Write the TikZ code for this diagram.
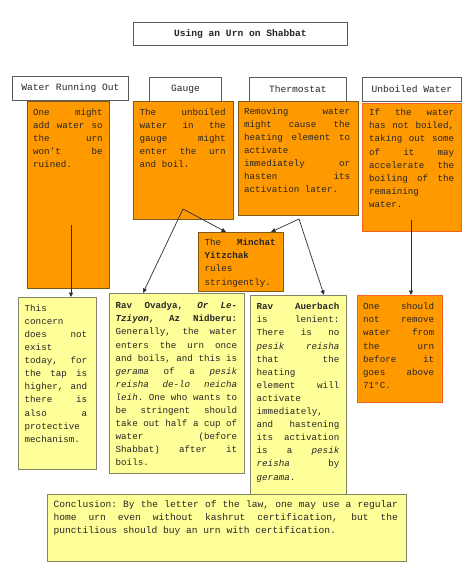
\documentclass[tikz,border=0pt]{standalone}
\usepackage{fontspec}
\setmainfont{Liberation Mono}
\usetikzlibrary{arrows.meta}
\definecolor{orf}{HTML}{FF9900}
\definecolor{ord}{HTML}{7F5A14}
\definecolor{orr}{HTML}{F5631E}
\definecolor{yef}{HTML}{FFFF99}
\definecolor{yed}{HTML}{84846A}
\definecolor{hdd}{HTML}{5A5A5A}
\definecolor{lnc}{HTML}{2E2E3A}
\definecolor{txc}{HTML}{262626}
\newcommand\Ls{\vrule height 9pt depth 4.1pt width 0pt}
\newcommand\Jx[1]{\hbox to\hsize{\spaceskip=\fontdimen2\font plus 1fil\xspaceskip=\spaceskip\relax#1\Ls}}
\newcommand\Lx[1]{\hbox to\hsize{#1\hfil\Ls}}
\newcommand\TB[3]{\vbox{\fontsize{#2}{13.1}\selectfont\hsize=#1pt\relax\lineskiplimit=-20pt\relax #3}}
\tikzset{
  hdr/.style={draw=hdd, fill=white, line width=0.8pt, anchor=north west, inner sep=0pt,
    font=\fontsize{9.6}{12}\selectfont, text=txc},
  obox/.style={draw=ord, fill=orf, line width=0.9pt, anchor=north west, inner sep=0pt},
  rbox/.style={draw=orr, fill=orf, line width=0.9pt, anchor=north west, inner sep=0pt},
  ybox/.style={draw=yed, fill=yef, line width=0.9pt, anchor=north west, inner sep=0pt},
  txt/.style={anchor=north west, inner sep=0pt, text=txc},
  conn/.style={draw=lnc, line width=0.7pt, -{Triangle[length=4.5pt,width=4pt]}}
}
\begin{document}
\begin{tikzpicture}[x=1pt,y=-1pt]
\path[fill=white] (0,0) rectangle (474,577);
\useasboundingbox (0,0) rectangle (474,577);
% title and headers
\node[hdr, minimum width=214pt, minimum height=23pt, font=\fontsize{9.6}{12}\selectfont\bfseries] (title) at (133,22) {Using an Urn on Shabbat};
\node[hdr, minimum width=116pt, minimum height=24pt] (hwro) at (12,76) {Water Running Out};
\node[hdr, minimum width=72pt, minimum height=24pt] (hgauge) at (149,77) {Gauge};
\node[hdr, minimum width=97pt, minimum height=24pt] (htherm) at (249,77) {Thermostat};
\node[hdr, minimum width=99pt, minimum height=24pt] (hunb) at (362,77) {Unboiled Water};
% orange boxes
\node[obox, minimum width=82pt, minimum height=187pt] (o1) at (27,101) {};
\node[txt] (t1) at ([shift={(6,5)}]o1.north west) {\TB{69.5}{9.2}{%
\Jx{One might}
\Jx{add water so}
\Jx{the urn}
\Jx{won’t be}
\Lx{ruined.}}};
\node[obox, minimum width=100pt, minimum height=118pt] (o2) at (133,101) {};
\node[txt] (t2) at ([shift={(6.5,5)}]o2.north west) {\TB{86}{9.2}{%
\Jx{The unboiled}
\Jx{water in the}
\Jx{gauge might}
\Jx{enter the urn}
\Lx{and boil.}}};
\node[obox, minimum width=120pt, minimum height=114pt] (o3) at (238,101) {};
\node[txt] (t3) at ([shift={(6,4)}]o3.north west) {\TB{106}{9.2}{%
\Jx{Removing water}
\Jx{might cause the}
\Jx{heating element to}
\Lx{activate}
\Jx{immediately or}
\Jx{hasten its}
\Lx{activation later.}}};
\node[rbox, minimum width=99pt, minimum height=128pt] (o4) at (362,103) {};
\node[txt] (t4) at ([shift={(7,3.5)}]o4.north west) {\TB{85}{9.2}{%
\Jx{If the water}
\Jx{has not boiled,}
\Jx{taking out some}
\Jx{of it may}
\Jx{accelerate the}
\Jx{boiling of the}
\Lx{remaining}
\Lx{water.}}};
\node[obox, minimum width=85pt, minimum height=59pt] (minchat) at (198,232) {};
\node[txt] (t5) at ([shift={(6.5,4.5)}]minchat.north west) {\TB{71}{9.2}{%
\Jx{The \textbf{Minchat}}
\Lx{\textbf{Yitzchak}}
\Lx{rules}
\Lx{stringently.}}};
% yellow boxes
\node[ybox, minimum width=78pt, minimum height=172pt] (concern) at (18,297) {};
\node[txt] (t6) at ([shift={(6.5,5)}]concern.north west) {\TB{62.5}{9.2}{%
\Lx{This}
\Lx{concern}
\Jx{does not}
\Lx{exist}
\Jx{today, for}
\Jx{the tap is}
\Jx{higher, and}
\Jx{there is}
\Jx{also a}
\Lx{protective}
\Lx{mechanism.}}};
\node[ybox, minimum width=135pt, minimum height=180pt] (ovadya) at (109,293) {};
\node[txt] (t7) at ([shift={(6.5,6.5)}]ovadya.north west) {\TB{121.5}{9.2}{%
\Jx{\textbf{Rav Ovadya, \textit{Or Le-}}}
\Jx{\textbf{\textit{Tziyon}, Az Nidberu:}}
\Jx{Generally, the water}
\Jx{enters the urn once}
\Jx{and boils, and this is}
\Jx{\textit{gerama} of a \textit{pesik}}
\Jx{\textit{reisha de-lo neicha}}
\Jx{\textit{leih}. One who wants to}
\Jx{be stringent should}
\Jx{take out half a cup of}
\Jx{water (before}
\Jx{Shabbat) after it}
\Lx{boils.}}};
\node[ybox, minimum width=96pt, minimum height=215pt] (auerbach) at (250,295) {};
\node[txt] (t8) at ([shift={(6.5,5.5)}]auerbach.north west) {\TB{82.6}{9.2}{%
\Jx{\textbf{Rav Auerbach}}
\Jx{is lenient:}
\Jx{There is no}
\Jx{\textit{pesik reisha}}
\Jx{that the}
\Lx{heating}
\Jx{element will}
\Lx{activate}
\Lx{immediately,}
\Jx{and hastening}
\Jx{its activation}
\Jx{is a \textit{pesik}}
\Jx{\textit{reisha} by}
\Lx{\textit{gerama}.}}};
\node[rbox, minimum width=85pt, minimum height=107pt] (should) at (357,295) {};
\node[txt] (t9) at ([shift={(6,5.5)}]should.north west) {\TB{71}{9.2}{%
\Jx{One should}
\Jx{not remove}
\Jx{water from}
\Jx{the urn}
\Jx{before it}
\Jx{goes above}
\Lx{71°C.}}};
% connectors
\coordinate (c1) at (71,225);
\coordinate (g1) at (183,209);
\coordinate (th1) at (299,219);
\coordinate (u1) at (411,220);
\draw[conn] (c1) -- (concern.north -| c1);
\draw[conn] (g1) -- ([xshift=34pt]ovadya.north west);
\draw[conn] (g1) -- ([xshift=28pt]minchat.north west);
\draw[conn] (th1) -- ([xshift=73pt]minchat.north west);
\draw[conn] (th1) -- ([xshift=74pt]auerbach.north west);
\draw[conn] (u1) -- (should.north -| u1);
% conclusion
\node[ybox, minimum width=359pt, minimum height=67pt] (concl) at (47,494) {};
\node[txt] (t10) at ([shift={(6.5,4.5)}]concl.north west) {\TB{344.3}{9.6}{%
\Jx{Conclusion: By the letter of the law, one may use a regular}
\Jx{home urn even without kashrut certification, but the}
\Lx{punctilious should buy an urn with certification.}}};
\end{tikzpicture}
\end{document}
